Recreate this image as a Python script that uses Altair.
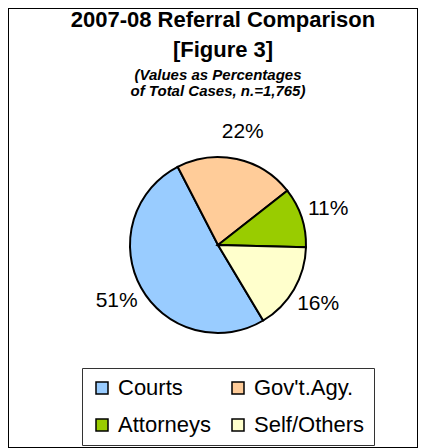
import math
import altair as alt
import pandas as pd

# ---- data ----
CATEGORIES = ["Courts", "Gov't.Agy.", "Attorneys", "Self/Others"]
PERCENTS = [51, 22, 11, 16]
PIE_ORDER = [4, 1, 2, 3]          # clockwise drawing order starting upper-left
COLORS = ["#99CCFF", "#FFCC99", "#99CC00", "#FFFFCC"]
TITLE_LINES = ["2007-08 Referral Comparison", "[Figure 3]"]
SUBTITLE_LINES = ["(Values as Percentages", "of Total Cases, n.=1,765)"]

df = pd.DataFrame({
    "category": CATEGORIES,
    "value": PERCENTS,
    "ord": PIE_ORDER,
    "label": [f"{v}%" for v in PERCENTS],
})

FONT = "Liberation Sans"
START = 2 * math.pi - math.radians(27.3)
theta_scale = alt.Scale(range=[START, START + 2 * math.pi])

base = alt.Chart(df).encode(
    theta=alt.Theta("value:Q", stack=True, scale=theta_scale),
    order=alt.Order("ord:Q"),
    x=alt.value(210),
    y=alt.value(237),
)

pie = base.mark_arc(outerRadius=88, stroke="black", strokeWidth=2).encode(
    color=alt.Color(
        "category:N",
        scale=alt.Scale(domain=CATEGORIES, range=COLORS),
        sort=CATEGORIES,
        legend=alt.Legend(
            title=None,
            orient="none",
            direction="horizontal",
            legendX=74,
            legendY=360,
            columns=2,
            symbolType="square",
            symbolSize=144,
            symbolStrokeColor="black",
            symbolStrokeWidth=1.5,
            symbolOpacity=1,
            labelFont=FONT,
            labelFontSize=22,
            labelColor="black",
            labelOffset=5,
            rowPadding=15,
            columnPadding=16,
            padding=9,
            strokeColor="#333333",
            fillColor="white",
            labelLimit=300,
        ),
    )
)

labels = base.mark_text(radius=116, font=FONT, fontSize=21, color="black").encode(
    text="label:N"
)

title_df = pd.DataFrame({"t": ["\n".join(TITLE_LINES)]})
title = alt.Chart(title_df).mark_text(
    font=FONT, fontSize=22, fontWeight="bold", lineBreak="\n", lineHeight=30,
    baseline="alphabetic", align="center", color="black",
).encode(text="t:N", x=alt.value(215), y=alt.value(19))

sub_df = pd.DataFrame({"t": ["\n".join(SUBTITLE_LINES)]})
subtitle = alt.Chart(sub_df).mark_text(
    font=FONT, fontSize=15, fontWeight="bold", fontStyle="italic", lineBreak="\n",
    lineHeight=16, baseline="alphabetic", align="center", color="black",
).encode(text="t:N", x=alt.value(210), y=alt.value(72))

chart = alt.layer(pie, labels, title, subtitle).properties(
    width=410, height=440, padding=0, autosize=alt.AutoSizeParams(type="none"),
    background="white",
).configure_view(stroke="black", strokeWidth=2)

chart.save("out.html", embed_options={"renderer": "svg", "actions": False})
